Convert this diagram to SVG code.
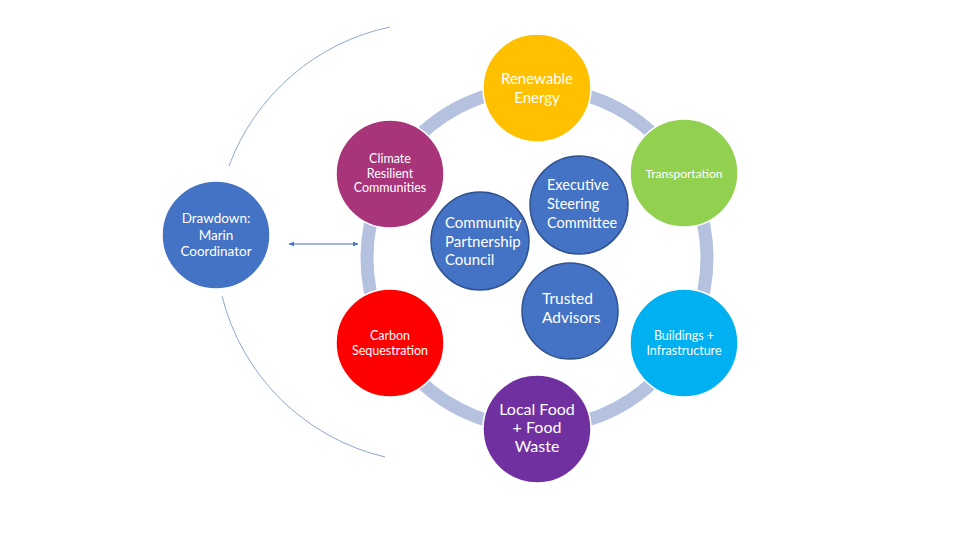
<svg xmlns="http://www.w3.org/2000/svg" width="960" height="540" viewBox="0 0 960 540">
<style>
.t{font-family:Lato,"Open Sans","Liberation Sans",sans-serif;fill:#fff;text-anchor:middle}
.l{text-anchor:start}
.o{stroke:#fff;stroke-width:1.5}
.i{fill:#4472C4;stroke:#2F528F;stroke-width:1.5}
</style>
<defs>
<marker id="ah" viewBox="0 0 10 10" refX="9" refY="5" markerWidth="6" markerHeight="6" orient="auto-start-reverse" markerUnits="userSpaceOnUse">
<path d="M0,1 L10,5 L0,9 z" fill="#4472C4"/>
</marker>
</defs>
<rect width="960" height="540" fill="#fff"/>
<g id="connectors">
<path d="M390,27 A220,220 0 0,0 229,166" fill="none" stroke="#8FA8CC" stroke-width="1"/>
<path d="M222,296 A220,220 0 0,0 385,457" fill="none" stroke="#8FA8CC" stroke-width="1"/>
<line x1="289" y1="244" x2="358" y2="244" stroke="#4472C4" stroke-width="1" marker-start="url(#ah)" marker-end="url(#ah)"/>
<circle cx="537" cy="258" r="170" fill="none" stroke="#B4C2DF" stroke-width="13"/>
</g>
<g id="renewable">
<circle cx="537" cy="88" r="54" fill="#FFC000" class="o"/>
<text class="t" x="537" y="84" font-size="15">Renewable</text>
<text class="t" x="537" y="103" font-size="15">Energy</text>
</g>
<g id="transportation">
<circle cx="684" cy="173" r="54" fill="#92D050" class="o"/>
<text class="t" x="684" y="178" font-size="12">Transportation</text>
</g>
<g id="buildings">
<circle cx="684" cy="343" r="54" fill="#00B0F0" class="o"/>
<text class="t" x="684" y="340" font-size="12.5">Buildings +</text>
<text class="t" x="684" y="355" font-size="12.5">Infrastructure</text>
</g>
<g id="localfood">
<circle cx="537" cy="429" r="54" fill="#7030A0" class="o"/>
<text class="t" x="537" y="415" font-size="16">Local Food</text>
<text class="t" x="537" y="433" font-size="16">+ Food</text>
<text class="t" x="537" y="452" font-size="16">Waste</text>
</g>
<g id="carbon">
<circle cx="390" cy="343" r="54" fill="#FF0000" class="o"/>
<text class="t" x="390" y="340" font-size="12.5">Carbon</text>
<text class="t" x="390" y="355" font-size="12.5">Sequestration</text>
</g>
<g id="climate">
<circle cx="390" cy="174" r="54" fill="#A8347A" class="o"/>
<text class="t" x="390" y="163" font-size="12.5">Climate</text>
<text class="t" x="390" y="178" font-size="12.5">Resilient</text>
<text class="t" x="390" y="192" font-size="12.5">Communities</text>
</g>
<g id="executive">
<circle cx="579" cy="205" r="49" class="i"/>
<text class="t l" x="547" y="190" font-size="14.5">Executive</text>
<text class="t l" x="547" y="209" font-size="14.5">Steering</text>
<text class="t l" x="547" y="228" font-size="14.5">Committee</text>
</g>
<g id="community">
<circle cx="480" cy="241" r="49" class="i"/>
<text class="t l" x="445" y="228" font-size="15">Community</text>
<text class="t l" x="445" y="247" font-size="15">Partnership</text>
<text class="t l" x="445" y="265" font-size="15">Council</text>
</g>
<g id="trusted">
<circle cx="570" cy="311" r="48" class="i"/>
<text class="t l" x="542" y="304" font-size="15.5">Trusted</text>
<text class="t l" x="542" y="323" font-size="15.5">Advisors</text>
</g>
<g id="drawdown">
<circle cx="216" cy="235" r="54" fill="#4472C4" class="o"/>
<text class="t" x="216" y="223" font-size="13.5">Drawdown:</text>
<text class="t" x="216" y="240" font-size="13.5">Marin</text>
<text class="t" x="216" y="256" font-size="13.5">Coordinator</text>
</g>
</svg>
